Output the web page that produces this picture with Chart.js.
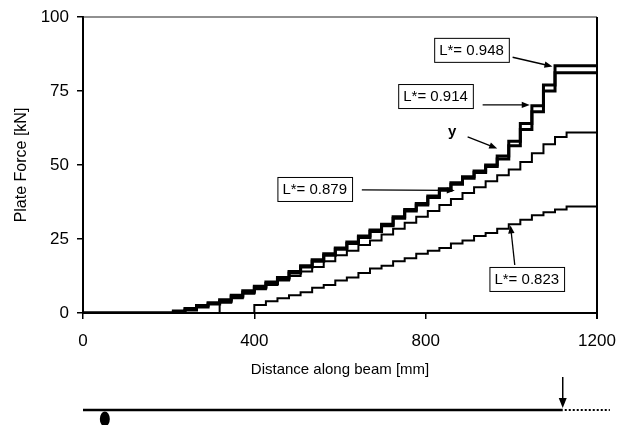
<!DOCTYPE html>
<html>
<head>
<meta charset="utf-8">
<script src="https://cdn.jsdelivr.net/npm/chart.js@4.4.0/dist/chart.umd.min.js"></script>
<style>
  html, body { margin: 0; padding: 0; background: #fff; }
</style>
</head>
<body>
<canvas id="plate" width="618" height="425"></canvas>
<script>
// step positions along the beam [mm]; each force holds until the next position
const distance = [0, 184, 211, 238, 265, 292, 319, 346, 373, 400, 427, 454, 481, 508, 535, 562, 589,
  616, 643, 670, 697, 724, 751, 778, 805, 832, 859, 886, 913, 940, 967, 994, 1021, 1048, 1075,
  1102, 1129, 1200];

// plate force [kN] for each L*
const force948 = [0, 0, 0.7, 1.5, 2.5, 3.5, 4.5, 6, 7.5, 9, 10.5, 12, 14, 16, 18, 20, 22,
  24, 26, 28, 30, 32.5, 35, 37, 39.5, 42, 44, 46, 48, 50, 53, 58, 64, 70, 77,
  83.5, 83.5, 83.5];
const force914 = [0, 0, 0.3, 1, 2, 3, 4, 5.5, 7, 8.5, 10, 11.5, 13.5, 15.5, 17.5, 19.5, 21.5,
  23.5, 25.5, 27.5, 29.5, 32, 34.5, 36.5, 39, 41.5, 43.5, 45.5, 47.5, 49.5, 52, 56.5, 62, 68, 75,
  81.2, 81.2, 81.2];
const force879 = [0, 0, 0, 0, 0, 0, 3.5, 5, 6.5, 8, 9.5, 11, 12.5, 14, 15.5, 17.5, 19.5,
  21, 23, 24.5, 26.5, 28.5, 30.5, 32.5, 34.5, 36.5, 38.5, 40.5, 42.5, 44.5, 46.5, 48.5, 51, 54, 57,
  59.5, 61, 61];
const force823 = [0, 0, 0, 0, 0, 0, 0, 0, 0, 2.7, 4, 5, 6, 7, 8.5, 9.5, 11,
  12, 13.5, 15, 16, 17.5, 18.5, 20, 21, 22, 23.5, 24.5, 26, 27, 28.5, 30, 31.5, 33, 34,
  35, 36, 36];

const xTicks = [0, 400, 800, 1200];
const yTicks = [0, 25, 50, 75, 100];

// labels with arrows, placed in axis units (mm, kN)
const callouts = [
  { text: 'L*= 0.948', at: [907, 88.9], from: [1003, 86.4], to: [1096, 83.3] },
  { text: 'L*= 0.914', at: [823, 73.3], from: [933, 70.3], to: [1043, 70.3] },
  { text: 'y', at: [862, 61.2], from: [898, 59.5], to: [967, 55.6], plain: true },
  { text: 'L*= 0.879', at: [541, 41.9], from: [651, 41.6], to: [868, 41.4] },
  { text: 'L*= 0.823', at: [1036, 11.5], from: [1008, 16.2], to: [998, 29.6] }
];

// beam sketch below the axis
const supportAt = 51;
const loadAt = 1120;
const beamEnd = 1230;

const family = '"Liberation Sans", Arial, sans-serif';

function series(values) {
  return values.map((v, i) => ({ x: distance[i], y: v }));
}

function arrow(ctx, x1, y1, x2, y2, head) {
  const a = Math.atan2(y2 - y1, x2 - x1);
  ctx.beginPath();
  ctx.moveTo(x1, y1);
  ctx.lineTo(x2 - Math.cos(a) * head * 0.8, y2 - Math.sin(a) * head * 0.8);
  ctx.stroke();
  ctx.beginPath();
  ctx.moveTo(x2, y2);
  ctx.lineTo(x2 - head * Math.cos(a) + head * 0.4 * Math.sin(a), y2 - head * Math.sin(a) - head * 0.4 * Math.cos(a));
  ctx.lineTo(x2 - head * Math.cos(a) - head * 0.4 * Math.sin(a), y2 - head * Math.sin(a) + head * 0.4 * Math.cos(a));
  ctx.closePath();
  ctx.fill();
}

const frame = {
  id: 'frame',
  beforeDatasetsDraw(chart) {
    const { ctx, chartArea: a } = chart;
    ctx.save();
    ctx.strokeStyle = '#222';
    ctx.lineWidth = 1.2;
    ctx.beginPath();
    ctx.moveTo(a.left, a.top);
    ctx.lineTo(a.right, a.top);
    ctx.stroke();
    ctx.strokeStyle = '#000';
    ctx.lineWidth = 2;
    ctx.beginPath();
    ctx.moveTo(a.right, a.top);
    ctx.lineTo(a.right, a.bottom + 6);
    ctx.stroke();
    ctx.restore();
  }
};

const notes = {
  id: 'notes',
  afterDatasetsDraw(chart) {
    const { ctx, scales: { x, y } } = chart;
    ctx.save();
    ctx.fillStyle = '#000';
    ctx.strokeStyle = '#000';
    ctx.textAlign = 'center';
    ctx.textBaseline = 'middle';
    callouts.forEach(c => {
      ctx.lineWidth = 1.3;
      arrow(ctx, x.getPixelForValue(c.from[0]), y.getPixelForValue(c.from[1]),
        x.getPixelForValue(c.to[0]), y.getPixelForValue(c.to[1]), 8);
      const cx = x.getPixelForValue(c.at[0]);
      const cy = y.getPixelForValue(c.at[1]);
      if (c.plain) {
        ctx.font = 'bold 15px ' + family;
        ctx.fillText(c.text, cx, cy);
        return;
      }
      ctx.font = '15px ' + family;
      const w = ctx.measureText(c.text).width + 10;
      const h = 24;
      ctx.fillStyle = '#fff';
      ctx.fillRect(cx - w / 2, cy - h / 2, w, h);
      ctx.lineWidth = 1;
      ctx.strokeRect(cx - w / 2 + 0.5, cy - h / 2 + 0.5, w, h);
      ctx.fillStyle = '#000';
      ctx.fillText(c.text, cx, cy + 1);
    });
    ctx.restore();
  },
  afterDraw(chart) {
    const { ctx, scales: { x } } = chart;
    const by = 410;
    ctx.save();
    ctx.strokeStyle = '#000';
    ctx.fillStyle = '#000';
    ctx.lineWidth = 2.5;
    ctx.beginPath();
    ctx.moveTo(x.getPixelForValue(0), by);
    ctx.lineTo(x.getPixelForValue(loadAt), by);
    ctx.stroke();
    ctx.lineWidth = 2;
    ctx.setLineDash([2, 2]);
    ctx.beginPath();
    ctx.moveTo(x.getPixelForValue(loadAt) + 2, by);
    ctx.lineTo(x.getPixelForValue(beamEnd), by);
    ctx.stroke();
    ctx.setLineDash([]);
    ctx.lineWidth = 1.5;
    arrow(ctx, x.getPixelForValue(loadAt), 377, x.getPixelForValue(loadAt), 408, 10);
    ctx.beginPath();
    ctx.ellipse(x.getPixelForValue(supportAt), 419, 5, 7.5, 0, 0, Math.PI * 2);
    ctx.fill();
    ctx.restore();
  }
};

const tickFont = { size: 17, family };
const titleFont = { size: 15, family };

new Chart(document.getElementById('plate'), {
  type: 'line',
  data: {
    datasets: [
      { label: 'L* = 0.823', data: series(force823), borderWidth: 2 },
      { label: 'L* = 0.879', data: series(force879), borderWidth: 2 },
      { label: 'L* = 0.914', data: series(force914), borderWidth: 3 },
      { label: 'L* = 0.948', data: series(force948), borderWidth: 3 }
    ].map(d => Object.assign(d, {
      borderColor: '#000',
      stepped: 'before',
      pointRadius: 0,
      fill: false,
      borderJoinStyle: 'miter'
    }))
  },
  options: {
    responsive: false,
    animation: false,
    devicePixelRatio: 1,
    layout: { padding: { left: 0, top: 17, right: 21, bottom: 45 } },
    plugins: {
      legend: { display: false },
      tooltip: { enabled: false }
    },
    scales: {
      x: {
        type: 'linear',
        min: xTicks[0],
        max: xTicks[xTicks.length - 1],
        afterBuildTicks: s => { s.ticks = xTicks.map(v => ({ value: v })); },
        ticks: { color: '#000', font: tickFont, padding: 12, maxRotation: 0, callback: v => String(v) },
        grid: { drawOnChartArea: false, tickLength: 6, color: '#000', lineWidth: 1.5 },
        border: { color: '#000', width: 2 },
        title: {
          display: true, text: 'Distance along beam [mm]', color: '#000',
          font: titleFont, padding: { top: 0, bottom: 1 }
        },
        afterFit: s => {
          s.height = 67;
          s.paddingLeft = 0;
          s.paddingRight = 0;
        }
      },
      y: {
        min: yTicks[0],
        max: yTicks[yTicks.length - 1],
        afterBuildTicks: s => { s.ticks = yTicks.map(v => ({ value: v })); },
        ticks: { color: '#000', font: tickFont, padding: 8, callback: v => String(v) },
        grid: { drawOnChartArea: false, tickLength: 6, color: '#000', lineWidth: 1.5 },
        border: { color: '#000', width: 2 },
        title: {
          display: true, text: 'Plate Force [kN]', color: '#000',
          font: { size: 16, family }, padding: { top: 12, bottom: 0 }
        },
        afterFit: s => {
          s.width = 83;
          s.paddingTop = 0;
          s.paddingBottom = 0;
        }
      }
    }
  },
  plugins: [frame, notes]
});
</script>
</body>
</html>
